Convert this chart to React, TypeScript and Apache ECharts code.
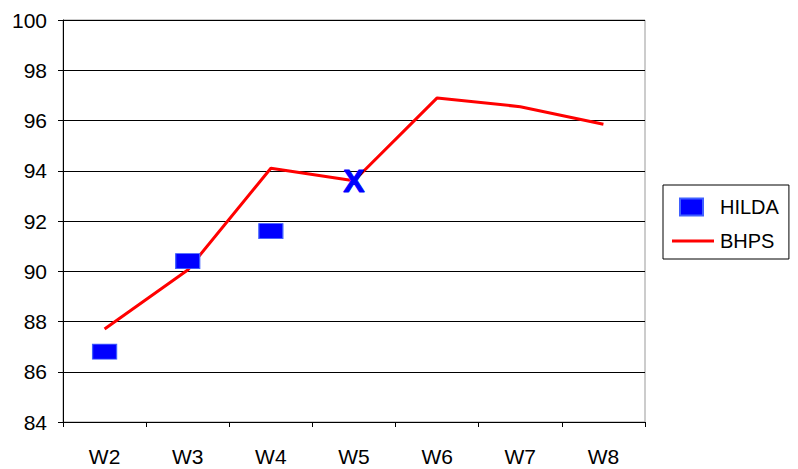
import React, { useEffect, useRef } from "react";
import * as echarts from "echarts";

const categories = ["W2", "W3", "W4", "W5", "W6", "W7", "W8"];
const hilda = [86.8, 90.4, 91.6, 93.6, null, null, null];
const hildaCrossIndex = 3; // W5 value drawn as an "X"
const bhps = [87.7, 90.05, 94.1, 93.6, 96.9, 96.55, 95.85];
const yTicks = { min: 84, max: 100, interval: 2 };

export default function App() {
  const ref = useRef<HTMLDivElement>(null);
  useEffect(() => {
    const chart = echarts.init(ref.current!, null, { renderer: "svg" });
    const font = "Liberation Sans, Arial, sans-serif";
    chart.setOption({
      animation: false,
      backgroundColor: "#fff",
      grid: {
        left: 63,
        right: 153,
        top: 20,
        bottom: 47,
        show: true,
        borderColor: "#999",
        borderWidth: 1,
        backgroundColor: "transparent",
      },
      legend: {
        orient: "vertical",
        left: 663,
        top: 185,
        padding: [12, 10, 8, 8],
        itemGap: 14,
        itemWidth: 42,
        itemHeight: 17,
        borderColor: "#000",
        borderWidth: 1,
        textStyle: { fontFamily: font, fontSize: 20, color: "#000", padding: [0, 0, 0, 1] },
        data: [
          { name: "HILDA", icon: "path://M0,0 M42,17 M8,0 L31,0 L31,17 L8,17 Z" },
          { name: "BHPS", icon: "path://M0,0 M42,17 M0,7 L42,7 L42,10 L0,10 Z" },
        ],
      },
      xAxis: {
        type: "category",
        data: categories,
        boundaryGap: true,
        axisLine: { lineStyle: { color: "#000", width: 1 } },
        axisTick: { show: true, length: 5, lineStyle: { color: "#000" } },
        axisLabel: { color: "#000", fontFamily: font, fontSize: 21, margin: 24 },
        splitLine: { show: false },
      },
      yAxis: {
        type: "value",
        min: yTicks.min,
        max: yTicks.max,
        interval: yTicks.interval,
        axisLine: { show: true, lineStyle: { color: "#000", width: 1 } },
        axisTick: { show: true, length: 5, lineStyle: { color: "#000" } },
        axisLabel: { color: "#000", fontFamily: font, fontSize: 21, margin: 16 },
        splitLine: { show: true, lineStyle: { color: "#000", width: 1 } },
      },
      series: [
        {
          name: "HILDA",
          type: "scatter",
          symbol: "rect",
          symbolSize: [24, 15],
          itemStyle: { color: "#0000ff", borderColor: "#4060ff", borderWidth: 1, opacity: 1 },
          emphasis: { disabled: true },
          data: hilda.map((v, i) =>
            i === hildaCrossIndex
              ? {
                  value: v,
                  symbolSize: 0,
                  label: {
                    show: true,
                    position: "inside",
                    formatter: "X",
                    color: "#0000ff",
                    fontFamily: font,
                    fontWeight: 900,
                    fontSize: 32,
                    textBorderColor: "#0000ff",
                    textBorderWidth: 1,
                  },
                }
              : v
          ),
          z: 3,
        },
        {
          name: "BHPS",
          type: "line",
          data: bhps,
          symbol: "none",
          lineStyle: { color: "#ff0000", width: 3 },
          itemStyle: { color: "#ff0000" },
          z: 2,
        },
      ],
    });
    return () => chart.dispose();
  }, []);
  return <div ref={ref} style={{ width: 798, height: 469, position: "absolute", left: 0, top: 0 }} />;
}
